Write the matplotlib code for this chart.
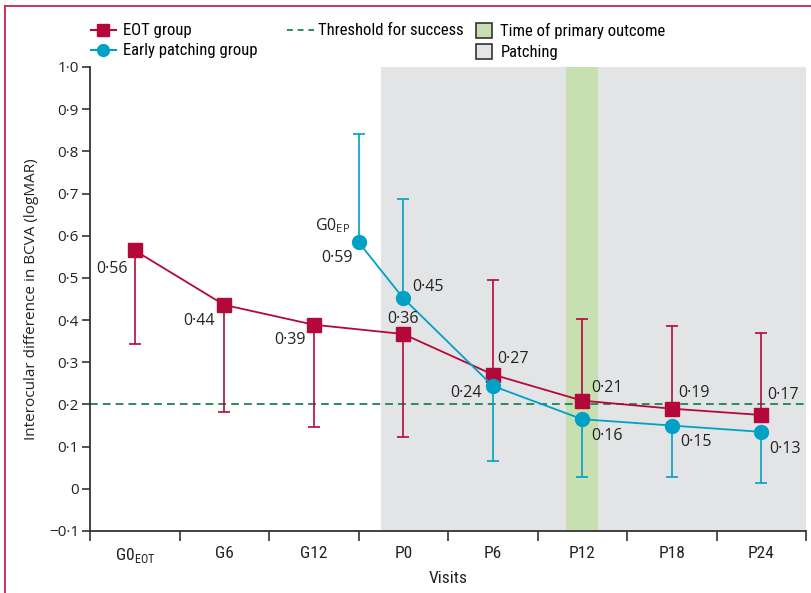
import matplotlib
matplotlib.use("Agg")
import matplotlib.pyplot as plt
from matplotlib.lines import Line2D
from matplotlib.patches import Patch
from matplotlib import font_manager as fm
import numpy as np

# ---------------- data ----------------
visits = ["G0$_\\mathregular{EOT}$", "G6", "G12", "P0", "P6", "P12", "P18", "P24"]
eot_x = [0, 1, 2, 3, 4, 5, 6, 7]
eot_y = [0.565, 0.436, 0.389, 0.367, 0.271, 0.209, 0.190, 0.175]
eot_ci_end = [0.344, 0.182, 0.146, 0.124, 0.495, 0.403, 0.386, 0.370]
eot_labels = ["0·56", "0·44", "0·39", "0·36", "0·27", "0·21", "0·19", "0·17"]

ep_x = [2.5, 3, 4, 5, 6, 7]
ep_y = [0.585, 0.452, 0.244, 0.165, 0.150, 0.135]
ep_ci_end = [0.841, 0.687, 0.065, 0.027, 0.029, 0.013]
ep_labels = ["0·59", "0·45", "0·24", "0·16", "0·15", "0·13"]

threshold = 0.2
patching_span = (2.75, 7.5)
primary_span = (4.82, 5.18)

# ---------------- style ----------------
RED = "#B4083B"
BLUE = "#00A1C4"
GREEN = "#2E8B5A"
GRAY_BG = "#E3E4E6"
GREEN_BG = "#C8DFB1"
TXT = "#222222"
NUMFONT = ["Open Sans", "DejaVu Sans"]

# look for a condensed sans font
cond = None
cond_stretch = "normal"
for f in fm.fontManager.ttflist:
    if f.name in ("Liberation Sans Narrow", "Roboto Condensed", "Open Sans Condensed",
                  "Noto Sans Condensed", "DejaVu Sans Condensed", "Arial Narrow"):
        cond = f.name
        break
if cond is None:
    for f in fm.fontManager.ttflist:
        st = f.stretch
        if isinstance(st, str) and st in ("condensed", "semi-condensed") and \
                f.name in ("Noto Sans", "DejaVu Sans", "Open Sans", "Roboto") and f.weight in (400, "normal", "regular"):
            cond = f.name
            cond_stretch = st
            break
if cond is None:
    cond = "Liberation Sans"
    COND_SCALE = 0.85
else:
    COND_SCALE = 1.0

CF = dict(family=[cond, "DejaVu Sans"], stretch=cond_stretch)

plt.rcParams["font.family"] = [cond, "DejaVu Sans"]
plt.rcParams["font.stretch"] = cond_stretch
plt.rcParams["mathtext.fontset"] = "custom"
plt.rcParams["mathtext.rm"] = cond

fig = plt.figure(figsize=(8.11, 5.93), dpi=100)
ax = fig.add_axes([90 / 811, 1 - 531 / 593, 716 / 811, 464 / 593])

ax.set_xlim(-0.5, 7.5)
ax.set_ylim(-0.1, 1.0)

ax.axvspan(*patching_span, color=GRAY_BG, lw=0, zorder=0)
ax.axvspan(*primary_span, color=GREEN_BG, lw=0, zorder=0.5)
ax.axhline(threshold, color=GREEN, lw=1.4, ls=(0, (4, 2.6)), zorder=1)


def draw_series(x, y, ends, color, marker, ms):
    y = np.array(y)
    e = np.array(ends)
    lo = np.where(e < y, y - e, 0)
    hi = np.where(e > y, e - y, 0)
    ax.errorbar(x, y, yerr=[lo, hi], fmt="none", ecolor=color, elinewidth=1.2,
                capsize=4.5, capthick=1.2, zorder=2)
    ax.plot(x, y, color=color, lw=1.3, marker=marker, ms=ms, mec=color,
            mfc=color, zorder=3)


draw_series(eot_x, eot_y, eot_ci_end, RED, "s", 9.5)
draw_series(ep_x, ep_y, ep_ci_end, BLUE, "o", 10)

LBL = 11.5
# value labels: (dx, dy, ha) offsets in points
eot_off = [(-5, -13, "right"), (-6.5, -11.5, "right"), (-6, -11, "right"), (0, 10.5, "center"),
           (3, 11, "left"), (6.5, 9, "left"), (4.5, 11, "left"), (4.5, 14.5, "left")]
for x, y, s, (dx, dy, ha) in zip(eot_x, eot_y, eot_labels, eot_off):
    ax.annotate(s, (x, y), xytext=(dx, dy), textcoords="offset points",
                ha=ha, va="center", fontsize=LBL, color=TXT, family=NUMFONT, zorder=5)

ep_off = [(-4.5, -11.5, "right"), (6.5, 8, "left"), (-8, -5, "right"),
          (6.5, -12, "left"), (6, -12, "left"), (6, -12.5, "left")]
for x, y, s, (dx, dy, ha) in zip(ep_x, ep_y, ep_labels, ep_off):
    ax.annotate(s, (x, y), xytext=(dx, dy), textcoords="offset points",
                ha=ha, va="center", fontsize=LBL, color=TXT, family=NUMFONT, zorder=5)
ax.annotate("G0$_\\mathregular{EP}$", (ep_x[0], ep_y[0]), xytext=(-6, 11.5),
            textcoords="offset points", ha="right", va="center", fontsize=LBL,
            color=TXT, family=NUMFONT, zorder=5)

# axes styling
for side in ["top", "right"]:
    ax.spines[side].set_visible(False)
for side in ["left", "bottom"]:
    ax.spines[side].set_color("#333333")
    ax.spines[side].set_linewidth(1.3)

yt = np.round(np.arange(-0.1, 1.01, 0.1), 1)
ax.set_yticks(yt)
ax.set_yticklabels([("−" if v < 0 else "") + f"{abs(v):.1f}".replace(".", "·") if v != 0 else "0" for v in yt],
                   family=NUMFONT, fontsize=11, color=TXT)
ax.tick_params(axis="y", direction="out", length=6, width=1.2, color="#333333", pad=2)

ax.set_xticks(np.arange(-0.5, 7.6, 1.0))
ax.set_xticklabels([])
ax.set_xticks(range(len(visits)), minor=True)
ax.set_xticklabels(visits, minor=True, fontsize=12.5 * COND_SCALE, color=TXT)
ax.tick_params(axis="x", which="major", direction="out", length=7, width=1.2, color="#333333")
ax.tick_params(axis="x", which="minor", length=0, pad=11)

ax.set_xlabel("Visits", fontsize=12.5 * COND_SCALE, color=TXT, labelpad=4)
ax.set_ylabel("Interocular difference in BCVA (logMAR)", fontsize=11, color=TXT,
              family=NUMFONT, labelpad=7)

# legends
LS = 12 * COND_SCALE
TOP = 1 - 15 / 593
h1 = [Line2D([], [], color=RED, marker="s", ms=8, lw=1.5),
      Line2D([], [], color=BLUE, marker="o", ms=8.5, lw=1.5)]
fig.legend(h1, ["EOT group", "Early patching group"], loc="upper left",
           bbox_to_anchor=(83 / 811, TOP), frameon=False, prop=dict(size=LS, **CF),
           handlelength=1.45, handletextpad=0.45, labelspacing=0.3, borderpad=0)
h2 = [Line2D([], [], color=GREEN, lw=1.4, ls=(0, (3, 2.5)))]
fig.legend(h2, ["Threshold for success"], loc="upper left",
           bbox_to_anchor=(279 / 811, TOP), frameon=False, prop=dict(size=LS, **CF),
           handlelength=1.6, handletextpad=0.25, borderpad=0)
h3 = [Patch(facecolor=GREEN_BG, edgecolor="#333333", lw=1.2),
      Patch(facecolor=GRAY_BG, edgecolor="#333333", lw=1.2)]
fig.legend(h3, ["Time of primary outcome", "Patching"], loc="upper left",
           bbox_to_anchor=(468 / 811, TOP), frameon=False, prop=dict(size=LS, **CF),
           handlelength=0.95, handleheight=0.95, handletextpad=0.5, labelspacing=0.3,
           borderpad=0)

# frame lines of the panel
fig.add_artist(Line2D([5 / 811, 5 / 811], [0, 1 - 6 / 593], color="#C8254F", lw=1.3,
                      transform=fig.transFigure))
fig.add_artist(Line2D([5 / 811, 1], [1 - 6 / 593, 1 - 6 / 593], color="#C8254F", lw=1.3,
                      transform=fig.transFigure))

fig.savefig("out.png", dpi=100)
